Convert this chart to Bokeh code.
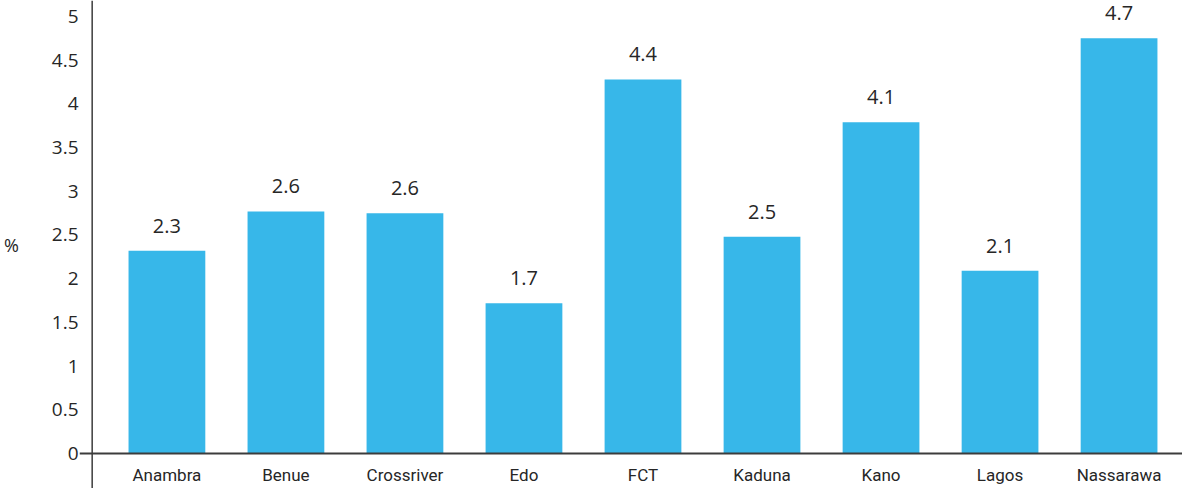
import numpy as np
from bokeh.plotting import figure
from bokeh.models import Range1d, FixedTicker, Span, ColumnDataSource
from bokeh.core.properties import value
from bokeh.embed import file_html
from bokeh.resources import INLINE

# ---- data ----
categories = ["Anambra", "Benue", "Crossriver", "Edo", "FCT", "Kaduna", "Kano", "Lagos", "Nassarawa"]
bar_values = [2.32, 2.77, 2.75, 1.72, 4.28, 2.48, 3.79, 2.09, 4.75]
bar_labels = ["2.3", "2.6", "2.6", "1.7", "4.4", "2.5", "4.1", "2.1", "4.7"]
y_ticks = [0, 0.5, 1, 1.5, 2, 2.5, 3, 3.5, 4, 4.5, 5]
y_tick_labels = ["0", "0.5", "1", "1.5", "2", "2.5", "3", "3.5", "4", "4.5", "5"]
y_axis_title = "%"

BAR_COLOR = "#37B7E9"
TEXT_COLOR = "#262626"
AXIS_COLOR = "#3c3c3c"

xpos = np.arange(len(categories))
src = ColumnDataSource(dict(x=xpos, top=bar_values, label=bar_labels,
                            cat=categories, zero=[0] * len(categories)))

p = figure(width=1182, height=488, output_backend="svg", toolbar_location=None,
           x_range=Range1d(-0.7345, 8.533), y_range=Range1d(-0.4005, 5.183),
           x_axis_location=None, min_border_left=78, min_border_right=0,
           min_border_top=0, min_border_bottom=0)
p.outline_line_color = None
p.grid.visible = False
p.background_fill_color = "white"
p.border_fill_color = "white"

p.vbar(x="x", top="top", bottom=0, width=0.645, source=src,
       fill_color=BAR_COLOR, line_color=None)

# value labels above bars
p.text(x="x", y="top", text="label", source=src, text_align="center",
       text_baseline="middle", y_offset=-25, text_font=value("Open Sans"),
       text_font_size="20px", text_color=TEXT_COLOR)

# category labels under the x axis line
p.text(x="x", y="zero", text="cat", source=src, text_align="center",
       text_baseline="middle", y_offset=22, text_font=value("Roboto"),
       text_font_size="17px", text_color=TEXT_COLOR)

# axis lines
p.add_layout(Span(location=0, dimension="width", line_color=AXIS_COLOR, line_width=2))
p.add_layout(Span(location=-0.628, dimension="height", line_color=AXIS_COLOR, line_width=1.5))

yax = p.yaxis[0]
yax.ticker = FixedTicker(ticks=y_ticks)
yax.major_label_overrides = {t: l for t, l in zip(y_ticks, y_tick_labels)}
yax.axis_line_color = None
yax.major_tick_line_color = None
yax.minor_tick_line_color = None
yax.major_tick_out = 0
yax.major_tick_in = 0
yax.major_label_standoff = 1
yax.major_label_text_font = "Open Sans"
yax.major_label_text_font_size = "19px"
yax.major_label_text_color = TEXT_COLOR
yax.axis_label = y_axis_title
yax.axis_label_orientation = "horizontal"
yax.axis_label_standoff = 30
yax.axis_label_text_font = "Open Sans"
yax.axis_label_text_font_style = "normal"
yax.axis_label_text_font_size = "18px"
yax.axis_label_text_color = TEXT_COLOR

open("out.html", "w").write(file_html(p, INLINE))
